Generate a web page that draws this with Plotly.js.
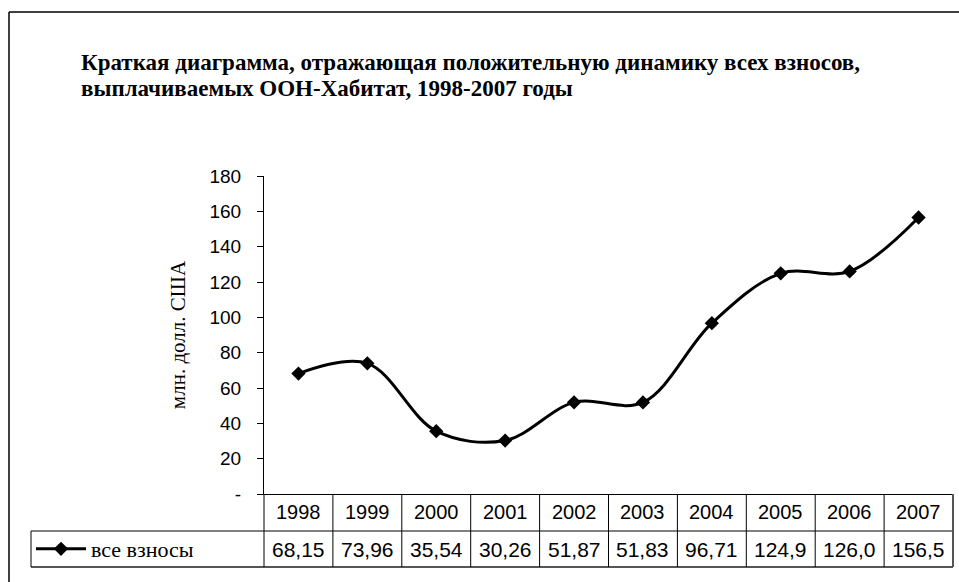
<!DOCTYPE html>
<html><head><meta charset="utf-8">
<script src="https://cdn.plot.ly/plotly-3.0.1.min.js"></script>
<style>html,body{margin:0;padding:0;background:#fff}#chart{width:959px;height:582px}</style>
</head><body><div id="chart"></div>
<script>
var years = ['1998','1999','2000','2001','2002','2003','2004','2005','2006','2007'];
var values = [68.15, 73.96, 35.54, 30.26, 51.87, 51.83, 96.71, 124.9, 126.0, 156.5];
var valueLabels = ['68,15','73,96','35,54','30,26','51,87','51,83','96,71','124,9','126,0','156,5'];
var seriesName = 'все взносы';
var yTickVals = [0,20,40,60,80,100,120,140,160,180];
var yTickText = ['-','20','40','60','80','100','120','140','160','180'];
var titleLines = ['Краткая диаграмма, отражающая положительную динамику всех взносов,', 'выплачиваемых ООН-Хабитат, 1998-2007 годы'];
var yTitle = 'млн. долл. США';

var Wd = 959, Ht = 582, L = 264, R = 953, T = 176, B = 494;
var PW = R - L, PH = B - T;
function px(x){ return (x - L) / PW; }
function py(y){ return (B - y) / PH; }

var serif = 'Liberation Serif, Times New Roman, serif';
var sans = 'Liberation Sans, Arial, sans-serif';

var shapes = [];
shapes.push({type:'line', xref:'paper', yref:'paper', x0:px(9), x1:px(960), y0:py(12), y1:py(12), line:{color:'#000', width:1.5}});
shapes.push({type:'line', xref:'paper', yref:'paper', x0:px(9), x1:px(9), y0:py(12), y1:py(583), line:{color:'#000', width:1.5}});
var rowTop = 494, rowMid = 531, rowBot = 567, leftCell = 31;
shapes.push({type:'line', xref:'paper', yref:'paper', x0:px(leftCell), x1:1, y0:py(rowMid), y1:py(rowMid), line:{color:'#000', width:1}});
shapes.push({type:'line', xref:'paper', yref:'paper', x0:px(leftCell), x1:1, y0:py(rowBot), y1:py(rowBot), line:{color:'#555', width:2}});
shapes.push({type:'line', xref:'paper', yref:'paper', x0:px(leftCell), x1:px(leftCell), y0:py(rowMid), y1:py(rowBot), line:{color:'#000', width:1}});
shapes.push({type:'line', xref:'paper', yref:'paper', x0:0, x1:0, y0:py(rowTop), y1:py(rowBot), line:{color:'#000', width:1}});
for (var i = 0; i < years.length - 1; i++) {
  shapes.push({type:'line', xref:'x', yref:'paper', x0:i+0.5, x1:i+0.5, y0:py(rowTop), y1:py(rowBot), line:{color:'#000', width:1}});
}
shapes.push({type:'line', xref:'paper', yref:'paper', x0:1, x1:1, y0:py(rowTop), y1:py(rowBot), line:{color:'#555', width:2}});

var annotations = [];
annotations.push({xref:'paper', yref:'paper', x:px(79), y:py(62), xanchor:'left', yanchor:'middle', align:'left', showarrow:false,
  text:'<b>'+titleLines[0]+'</b>', font:{family:serif, size:23, color:'#000'}});
annotations.push({xref:'paper', yref:'paper', x:px(79), y:py(88), xanchor:'left', yanchor:'middle', align:'left', showarrow:false,
  text:'<b>'+titleLines[1]+'</b>', font:{family:serif, size:23, color:'#000'}});
for (var j = 0; j < years.length; j++) {
  annotations.push({xref:'x', yref:'paper', x:j, y:py(512), yanchor:'middle', showarrow:false, text:years[j], font:{family:sans, size:20, color:'#000'}});
  annotations.push({xref:'x', yref:'paper', x:j, y:py(549), yanchor:'middle', showarrow:false, text:valueLabels[j], font:{family:sans, size:21, color:'#000'}});
}

var trace = {
  x: years, y: values, type:'scatter', mode:'lines+markers', name: seriesName,
  line:{color:'#000', width:3, shape:'spline', smoothing:1},
  marker:{symbol:'diamond', size:11, color:'#000'}
};

var layout = {
  width: Wd, height: Ht,
  margin:{l:L, r:Wd-R, t:T, b:Ht-B, pad:0},
  paper_bgcolor:'#fff', plot_bgcolor:'#fff',
  showlegend:true,
  legend:{x:px(31), y:py(549), xanchor:'left', yanchor:'middle', bgcolor:'rgba(0,0,0,0)', itemwidth:50,
    font:{family:serif, size:22, color:'#000'}},
  xaxis:{type:'category', range:[-0.5, 9.5], showticklabels:false, ticks:'', showgrid:false, zeroline:false,
    showline:true, linecolor:'#000', linewidth:1, fixedrange:true},
  yaxis:{range:[0,180], tickvals:yTickVals, ticktext:yTickText, ticks:'outside', ticklen:6, tickcolor:'#000', tickwidth:1,
    showline:true, linecolor:'#000', linewidth:1, showgrid:false, zeroline:false,
    tickfont:{family:sans, size:19, color:'#000'}, ticklabelstandoff:12,
    title:{text:yTitle, font:{family:serif, size:21, color:'#000'}, standoff:18}},
  shapes: shapes, annotations: annotations
};

Plotly.newPlot('chart', [trace], layout, {displayModeBar:false, staticPlot:true});
</script></body></html>
